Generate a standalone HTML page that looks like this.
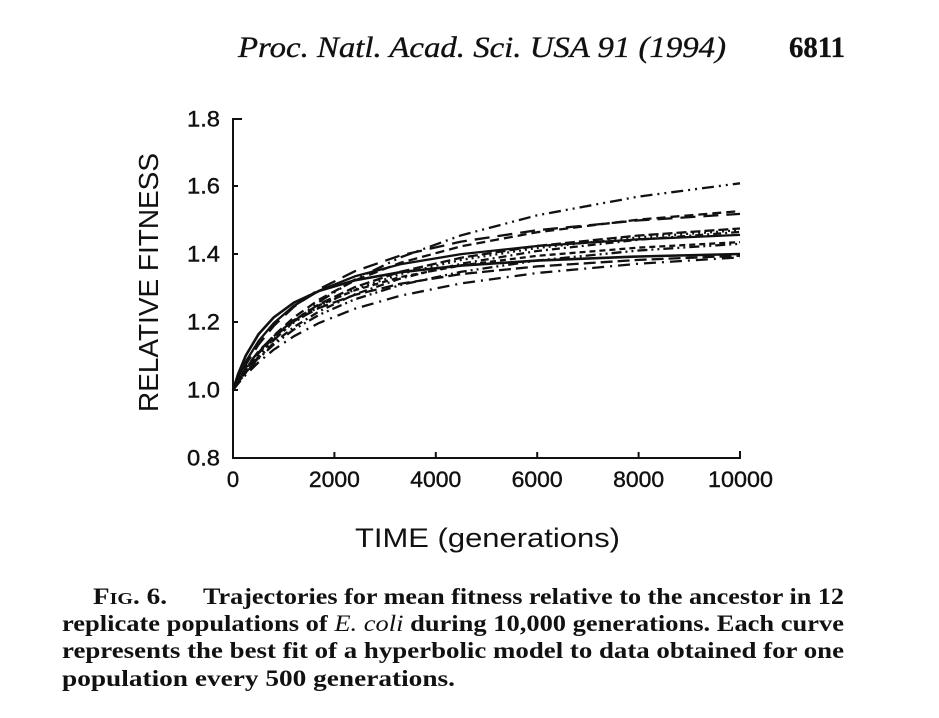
<!DOCTYPE html>
<html>
<head>
<meta charset="utf-8">
<style>
  html, body { margin: 0; padding: 0; background: #ffffff; }
  body { width: 939px; height: 718px; overflow: hidden; }
  svg { display: block; }
  .tick { font-family: "Liberation Sans", "DejaVu Sans", sans-serif; font-size: 22px; fill: #111; stroke: #111; stroke-width: 0.4; }
  .lab { font-family: "Liberation Sans", "DejaVu Sans", sans-serif; fill: #111; }
  .hdr { font-family: "Liberation Serif", "DejaVu Serif", serif; fill: #111; stroke: #111; stroke-width: 0.35; }
  .cap { font-family: "Liberation Serif", "DejaVu Serif", serif; font-weight: bold; font-size: 23px; fill: #111; }
  .crv { fill: none; stroke: #111; stroke-width: 2.3; stroke-linejoin: round; }
</style>
</head>
<body>
<svg width="939" height="718" viewBox="0 0 939 718" xmlns="http://www.w3.org/2000/svg">
  <rect x="0" y="0" width="939" height="718" fill="#ffffff"/>

  <!-- Header -->
  <text class="hdr" x="238" y="57" font-size="30" font-style="italic" textLength="488" lengthAdjust="spacingAndGlyphs">Proc. Natl. Acad. Sci. USA 91 (1994)</text>
  <text class="hdr" x="789" y="57" font-size="30" font-weight="bold" textLength="56" lengthAdjust="spacingAndGlyphs">6811</text>

  <!-- Axes -->
  <g stroke="#111" stroke-width="2" fill="none">
    <line x1="233" y1="118" x2="233" y2="459"/>
    <line x1="232" y1="458" x2="741" y2="458"/>
    <line x1="233" y1="119" x2="242" y2="119"/>
    <line x1="233" y1="186" x2="238" y2="186"/>
    <line x1="233" y1="254" x2="238" y2="254"/>
    <line x1="233" y1="322" x2="238" y2="322"/>
    <line x1="233" y1="390" x2="238" y2="390"/>
    <line x1="334.4" y1="458" x2="334.4" y2="452"/>
    <line x1="435.8" y1="458" x2="435.8" y2="452"/>
    <line x1="537.2" y1="458" x2="537.2" y2="452"/>
    <line x1="638.6" y1="458" x2="638.6" y2="452"/>
    <line x1="740" y1="459" x2="740" y2="451"/>
  </g>

  <!-- Y tick labels -->
  <g class="tick" text-anchor="end">
    <text x="220" y="126.5" textLength="33" lengthAdjust="spacingAndGlyphs">1.8</text>
    <text x="220" y="193.5" textLength="33" lengthAdjust="spacingAndGlyphs">1.6</text>
    <text x="220" y="261.5" textLength="33" lengthAdjust="spacingAndGlyphs">1.4</text>
    <text x="220" y="329.5" textLength="33" lengthAdjust="spacingAndGlyphs">1.2</text>
    <text x="220" y="397.5" textLength="33" lengthAdjust="spacingAndGlyphs">1.0</text>
    <text x="220" y="465.5" textLength="33" lengthAdjust="spacingAndGlyphs">0.8</text>
  </g>

  <!-- X tick labels -->
  <g class="tick" text-anchor="middle">
    <text x="233" y="487">0</text>
    <text x="334.4" y="487" textLength="51" lengthAdjust="spacingAndGlyphs">2000</text>
    <text x="435.8" y="487" textLength="51" lengthAdjust="spacingAndGlyphs">4000</text>
    <text x="537.2" y="487" textLength="51" lengthAdjust="spacingAndGlyphs">6000</text>
    <text x="638.6" y="487" textLength="51" lengthAdjust="spacingAndGlyphs">8000</text>
    <text x="740.5" y="487" textLength="65" lengthAdjust="spacingAndGlyphs">10000</text>
  </g>

  <!-- Axis labels -->
  <text class="lab" font-size="28" text-anchor="middle" transform="translate(158,282.5) rotate(-90)" textLength="259" lengthAdjust="spacingAndGlyphs">RELATIVE FITNESS</text>
  <text class="lab" font-size="27" x="487.5" y="547" text-anchor="middle" textLength="265" lengthAdjust="spacingAndGlyphs">TIME (generations)</text>

  <!-- Curves -->
  <g class="crv">
    <path stroke-dasharray="12 5 2 5 2 5" d="M233,390 L238.1,382.7 245.7,372.4 258.4,356.8 273.6,340.4 293.8,321.5 319.2,301.8 354.7,279.6 400.3,257.4 461.2,235.3 537.2,215.3 638.6,196.6 740,183.3"/>
    <path stroke-dasharray="9 5" d="M233,390 L238.1,381.4 245.7,369.7 258.4,352.7 273.6,335.8 293.8,317.5 319.2,299.5 354.7,280.5 400.3,262.8 461.2,246.3 537.2,232.2 638.6,219.6 740,211.1"/>
    <path stroke-dasharray="15 8" d="M233,390 L238.1,379.1 245.7,364.7 258.4,344.8 273.6,326.1 293.8,306.9 319.2,289.1 354.7,271.3 400.3,255.5 461.2,241.6 537.2,230.2 638.6,220.4 740,213.9"/>
    <path stroke-dasharray="10 4" d="M233,390 L238.1,381.4 245.7,369.9 258.4,353.5 273.6,337.5 293.8,320.5 319.2,304.1 354.7,287.2 400.3,271.8 461.2,257.7 537.2,245.9 638.6,235.5 740,228.5"/>
    <path stroke-dasharray="2 4" d="M233,390 L238.1,381.8 245.7,370.7 258.4,354.9 273.6,339.3 293.8,322.6 319.2,306.4 354.7,289.6 400.3,274.1 461.2,259.9 537.2,247.9 638.6,237.3 740,230.2"/>
    <path stroke-dasharray="8 4 2 4" d="M233,390 L238.1,382.6 245.7,372.5 258.4,357.9 273.6,343.1 293.8,327.1 319.2,311.3 354.7,294.4 400.3,278.6 461.2,263.7 537.2,251.0 638.6,239.7 740,231.9"/>
    <path d="M233,390 L238.1,377.5 245.7,361.7 258.4,341.3 273.6,323.3 293.8,305.9 319.2,290.7 354.7,276.4 400.3,264.3 461.2,254.1 537.2,246.0 638.6,239.3 740,234.9"/>
    <path stroke-dasharray="6 4" d="M233,390 L238.1,380.8 245.7,368.7 258.4,352.1 273.6,336.3 293.8,320.2 319.2,305.2 354.7,290.3 400.3,277.1 461.2,265.4 537.2,255.8 638.6,247.6 740,242.1"/>
    <path stroke-dasharray="10 4 2 4 2 4" d="M233,390 L238.1,382.7 245.7,372.9 258.4,358.7 273.6,344.7 293.8,329.6 319.2,314.8 354.7,299.4 400.3,285.0 461.2,271.8 537.2,260.5 638.6,250.5 740,243.8"/>
    <path stroke-width="2.6" d="M233,390 L238.1,374.1 245.7,355.7 258.4,334.4 273.6,317.5 293.8,302.7 319.2,290.9 354.7,280.4 400.3,272.2 461.2,265.6 537.2,260.6 638.6,256.5 740,254.0"/>
    <path stroke-dasharray="12 5" d="M233,390 L238.1,380.3 245.7,367.9 258.4,351.4 273.6,336.3 293.8,321.3 319.2,307.9 354.7,294.9 400.3,283.8 461.2,274.1 537.2,266.4 638.6,259.9 740,255.7"/>
    <path stroke-dasharray="12 6 2 6" d="M233,390 L238.1,383.6 245.7,374.9 258.4,362.4 273.6,349.8 293.8,336.3 319.2,322.9 354.7,308.8 400.3,295.7 461.2,283.4 537.2,273.0 638.6,263.7 740,257.4"/>
  </g>

  <!-- Caption -->
  <text class="cap" x="93" y="604" textLength="74" lengthAdjust="spacingAndGlyphs">F<tspan font-size="17">IG</tspan>. 6.</text>
  <text class="cap" x="203" y="604" textLength="641" lengthAdjust="spacingAndGlyphs">Trajectories for mean fitness relative to the ancestor in 12</text>

  <text class="cap" x="62" y="631" textLength="782" lengthAdjust="spacingAndGlyphs">replicate populations of <tspan font-style="italic" font-weight="normal">E. coli</tspan> during 10,000 generations. Each curve</text>

  <text class="cap" x="62" y="658" textLength="782" lengthAdjust="spacingAndGlyphs">represents the best fit of a hyperbolic model to data obtained for one</text>
  <text class="cap" x="62" y="686" textLength="393" lengthAdjust="spacingAndGlyphs">population every 500 generations.</text>
</svg>
</body>
</html>
